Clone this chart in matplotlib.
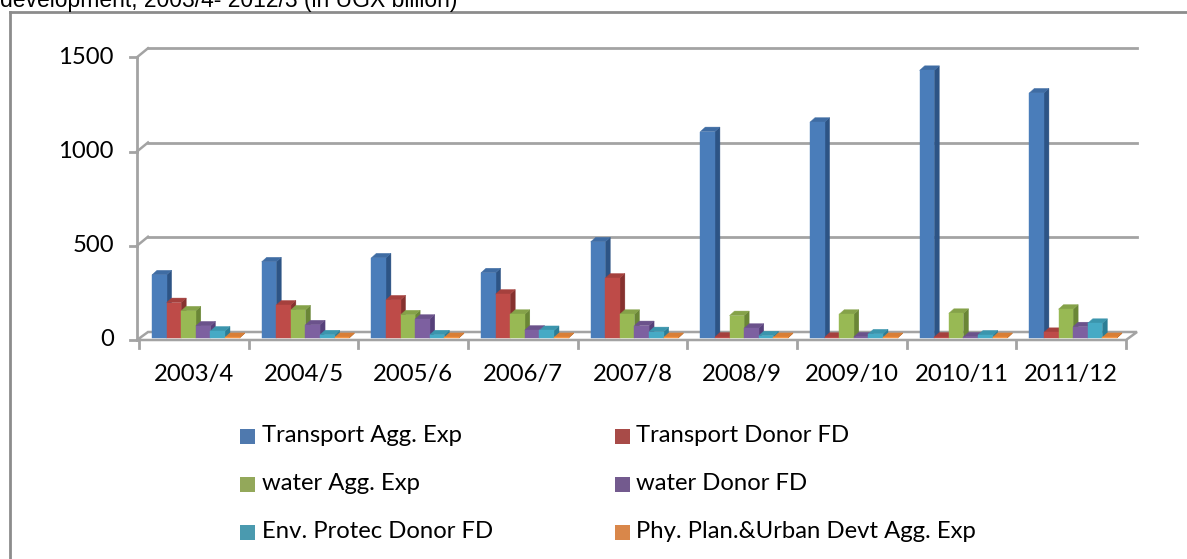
import matplotlib
matplotlib.use("Agg")
import matplotlib.pyplot as plt
from matplotlib.patches import Rectangle, Polygon

# ---------------- data ----------------
categories = ["2003/4", "2004/5", "2005/6", "2006/7", "2007/8",
              "2008/9", "2009/10", "2010/11", "2011/12"]
series_names = ["Transport Agg. Exp", "Transport Donor FD", "water Agg. Exp",
                "water Donor FD", "Env. Protec Donor FD",
                "Phy. Plan.&Urban Devt Agg. Exp"]
transport_agg = [335, 404, 425, 346, 510, 1095, 1145, 1420, 1300]
transport_donor = [188, 175, 202, 233, 318, 5, 4, 5, 30]
water_agg = [144, 149, 123, 126, 126, 119, 126, 131, 153]
water_donor = [64, 70, 100, 42, 66, 52, 6, 6, 60]
env_donor = [37, 17, 17, 40, 34, 12, 22, 16, 78]
phy_agg = [3, 3, 3, 3, 3, 3, 3, 3, 3]
yticks = [0, 500, 1000, 1500]
title_text = "development, 2003/4- 2012/3 (in UGX billion)"

series = [transport_agg, transport_donor, water_agg, water_donor, env_donor, phy_agg]

front_c = ['#4A7DBA', '#BE4B48', '#98B954', '#7D60A0', '#46AAC5', '#F59342']
top_c = ['#3F6CA3', '#A5403D', '#85A249', '#6B528B', '#3B95AD', '#D97E35']
side_c = ['#2D5485', '#86312F', '#6A8636', '#56407A', '#2C7D95', '#B5631F']
legend_c = ['#4F79AE', '#A84B48', '#93A85A', '#735A8E', '#4A9AAF', '#D9874A']

W, H = 1187, 559
fig = plt.figure(figsize=(W / 100, H / 100), dpi=100)
fig.patch.set_facecolor('white')

K = 0.1885          # pixels per value unit
XPX = 987 / 9       # pixels per category
ax = fig.add_axes([139 / W, 1 - 340 / H, 987 / W, 1500 * K / H])
ax.set_xlim(0, 9)
ax.set_ylim(0, 1500)
ax.axis('off')


def dx(p):
    return p / XPX


def dy(p):
    return p / K


GRID = '#A3A3A3'
FONT = 'Lato'
FS = 17.2

# back wall gridlines and connectors
BX, BY = 9, 9
for v in yticks[1:]:
    ax.plot([dx(-2), dx(BX)], [v, v + dy(BY)], color=GRID, lw=1.8, clip_on=False, zorder=1)
    ax.plot([dx(BX), 9 + dx(BX + 2)], [v + dy(BY), v + dy(BY)], color=GRID, lw=2.0,
            clip_on=False, zorder=1)

# floor
floor = Polygon([(dx(-2), 0), (9, 0), (9 + dx(BX + 2), dy(8)), (dx(BX), dy(8))],
                closed=True, facecolor='white', edgecolor=GRID, lw=1.8, clip_on=False, zorder=1.5)
ax.add_patch(floor)

# vertical axis line + ticks + labels
ax.plot([dx(-2), dx(-2)], [0, 1500], color=GRID, lw=2.0, clip_on=False, zorder=2)
for v in yticks:
    ax.plot([dx(-9), dx(-2)], [v, v], color=GRID, lw=2.0, clip_on=False, zorder=2)
    ax.text(dx(-25), v, str(v), ha='right', va='center', fontsize=FS,
            family=FONT, color='black', clip_on=False)

# x ticks + labels
for i in range(len(categories) + 1):
    ax.plot([i, i], [0, -dy(8)], color=GRID, lw=2.0, clip_on=False, zorder=2)
for i, c in enumerate(categories):
    ax.text(i + 0.5, -dy(35), c, ha='center', va='center', fontsize=FS,
            family=FONT, color='black', clip_on=False)

# 3D-looking bars
BW = 14.6
DDX, DDY = 5, 4.5
for i in range(len(categories)):
    for j, vals in enumerate(series):
        v = vals[i]
        x0 = i + dx(13 + j * BW)
        w = dx(BW)
        b = dy(2)
        z = 3 + j * 0.1
        ax.add_patch(Polygon([(x0 + w, b), (x0 + w + dx(DDX), b + dy(DDY)),
                              (x0 + w + dx(DDX), b + v + dy(DDY)), (x0 + w, b + v)],
                             closed=True, facecolor=side_c[j], edgecolor=side_c[j],
                             lw=0.3, clip_on=False, zorder=z))
        ax.add_patch(Polygon([(x0, b + v), (x0 + w, b + v),
                              (x0 + w + dx(DDX), b + v + dy(DDY)), (x0 + dx(DDX), b + v + dy(DDY))],
                             closed=True, facecolor=top_c[j], edgecolor=top_c[j],
                             lw=0.3, clip_on=False, zorder=z + 0.01))
        ax.add_patch(Rectangle((x0, b), w, v, facecolor=front_c[j], edgecolor=front_c[j],
                               lw=0.3, clip_on=False, zorder=z + 0.02))

# legend (manual, 3 rows x 2 columns)
col_sq = [240, 615]
col_tx = [262, 636]
row_y = [436, 484, 532]
for k, name in enumerate(series_names):
    r, c = k // 2, k % 2
    fig.patches.append(Rectangle((col_sq[c] / W, 1 - (row_y[r] + 7.5) / H), 15 / W, 15 / H,
                                 transform=fig.transFigure, facecolor=legend_c[k],
                                 edgecolor='none'))
    fig.text(col_tx[c] / W, 1 - row_y[r] / H, name, ha='left', va='center',
             fontsize=FS, family=FONT, color='black')

# outer frame (partially visible)
fig.add_artist(plt.Line2D([10 / W, 10 / W], [0, 1 - 12 / H], transform=fig.transFigure,
                          color='#8C8C8C', lw=2))
fig.add_artist(plt.Line2D([10 / W, 1], [1 - 12 / H, 1 - 12 / H], transform=fig.transFigure,
                          color='#8C8C8C', lw=2))

# title (cut off at top, as in the source image)
fig.text(0 / W, 1 - 7 / H, title_text, ha='left', va='baseline', fontsize=16.5,
         family='Liberation Sans', color='black')

fig.savefig('out.png', dpi=100)
